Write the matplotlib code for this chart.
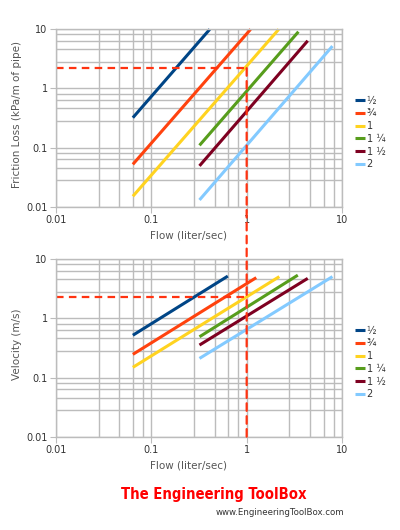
import numpy as np
import matplotlib
matplotlib.use("Agg")
import matplotlib.pyplot as plt
from matplotlib import font_manager as fm
from matplotlib.patches import ConnectionPatch

# pipe sizes (inch)
sizes = ["½", "¾", "1", "1 ¼", "1 ½", "2"]
colors = ["#004586", "#ff420e", "#ffd320", "#579d1c", "#7e0021", "#83caff"]

# flow range for each size (liter/sec)
flow_loss = [[0.064, 0.41], [0.064, 1.10], [0.064, 2.17],
             [0.32, 3.49], [0.32, 4.37], [0.32, 7.94]]
# friction loss (kPa/m of pipe)
loss = [[0.32, 10.0], [0.052, 10.0], [0.015, 10.0],
        [0.109, 9.1], [0.049, 6.4], [0.013, 5.2]]

flow_vel = [[0.064, 0.634], [0.064, 1.26], [0.064, 2.2],
            [0.32, 3.44], [0.32, 4.37], [0.32, 7.94]]
# velocity (m/s)
velocity = [[0.52, 5.2], [0.247, 4.9], [0.149, 5.1],
            [0.49, 5.4], [0.355, 4.76], [0.211, 5.1]]

# example reading marked with dashed lines
ex_flow = 1.0
ex_loss = 2.2
ex_vel = 2.27

ticks = [0.01, 0.1, 1, 10]
tick_labels = ["0.01", "0.1", "1", "10"]
minor = [m * 10.0**d for d in range(-2, 1) for m in (2.8, 4.6, 6.4, 8.2)]

grid_c = "#bcbcbc"
text_c = "#555555"
red = "#ff3311"


def narrow_bold():
	# look for a condensed bold face for the logo text
	best = None
	for f in fm.fontManager.ttflist:
		n = f.name.lower()
		bold = f.weight in ("bold", 700) or (isinstance(f.weight, int) and f.weight >= 700)
		narrow = "narrow" in n or "condensed" in str(f.stretch).lower() or "condensed" in n
		if bold and narrow:
			if "liberation" in n:
				return fm.FontProperties(fname=f.fname)
			best = best or f.fname
	if best:
		return fm.FontProperties(fname=best)
	return fm.FontProperties(weight="bold")


fig = plt.figure(figsize=(4.0, 5.3), dpi=100)
ax1 = fig.add_axes([0.14, 0.61, 0.715, 0.3347])
ax2 = fig.add_axes([0.14, 0.1760, 0.715, 0.3347])


def style(ax, ylabel):
	ax.set_xscale("log")
	ax.set_yscale("log")
	ax.set_xlim(0.01, 10)
	ax.set_ylim(0.01, 10)
	ax.set_xticks(ticks)
	ax.set_xticklabels(tick_labels)
	ax.set_yticks(ticks)
	ax.set_yticklabels(tick_labels)
	ax.set_xticks(minor, minor=True)
	ax.set_yticks(minor, minor=True)
	ax.xaxis.set_minor_formatter(plt.NullFormatter())
	ax.yaxis.set_minor_formatter(plt.NullFormatter())
	ax.grid(True, which="both", color=grid_c, linewidth=1.0)
	ax.set_axisbelow(True)
	for s in ax.spines.values():
		s.set_color(grid_c)
		s.set_linewidth(1.0)
	ax.tick_params(which="major", length=4, color=grid_c, labelsize=7,
			labelcolor="#333333", pad=2)
	ax.tick_params(which="minor", length=0)
	ax.set_xlabel("Flow (liter/sec)", fontsize=7.5, color=text_c)
	ax.set_ylabel(ylabel, fontsize=7.5, color=text_c)
	ax.xaxis.set_label_coords(0.464, -0.135)
	ax.yaxis.set_label_coords(-0.118, 0.52)


for ax, xs, ys, ylabel in [(ax1, flow_loss, loss, "Friction Loss (kPa/m of pipe)"),
		(ax2, flow_vel, velocity, "Velocity (m/s)")]:
	style(ax, ylabel)
	for name, c, x, y in zip(sizes, colors, xs, ys):
		ax.plot(x, y, color=c, linewidth=2.2, label=name,
				solid_capstyle="butt", clip_on=False)
	leg = ax.legend(loc="upper left", bbox_to_anchor=(1.02, 0.67),
			frameon=False, fontsize=7, handlelength=1.0,
			handletextpad=0.15, labelspacing=0.28, borderaxespad=0.4)
	for t in leg.get_texts():
		t.set_color("#333333")

dash = dict(color=red, linewidth=1.6, dashes=(3.4, 2.4))
ax1.plot([0.01, ex_flow], [ex_loss, ex_loss], **dash)
ax2.plot([0.01, ex_flow], [ex_vel, ex_vel], **dash)
con = ConnectionPatch(xyA=(ex_flow, ex_loss), coordsA=ax1.transData,
		xyB=(ex_flow, 0.0085), coordsB=ax2.transData,
		color=red, linewidth=1.6, linestyle=(0, (3.4, 2.4)))
fig.add_artist(con)

fp = narrow_bold()
fp.set_size(14)
logo = fig.text(0.535, 0.058, "The Engineering ToolBox", ha="center",
		va="baseline", color="#ff0000", fontproperties=fp)
# shrink the logo text until it is about as wide as in the original
fig.canvas.draw()
w = logo.get_window_extent().width
fp.set_size(14 * min(1.0, 185.0 / w))
logo.set_fontproperties(fp)

fig.text(0.7, 0.033, "www.EngineeringToolBox.com", ha="center", va="center",
		color="#333333", fontsize=6.2)

fig.savefig("out.png", dpi=100)
